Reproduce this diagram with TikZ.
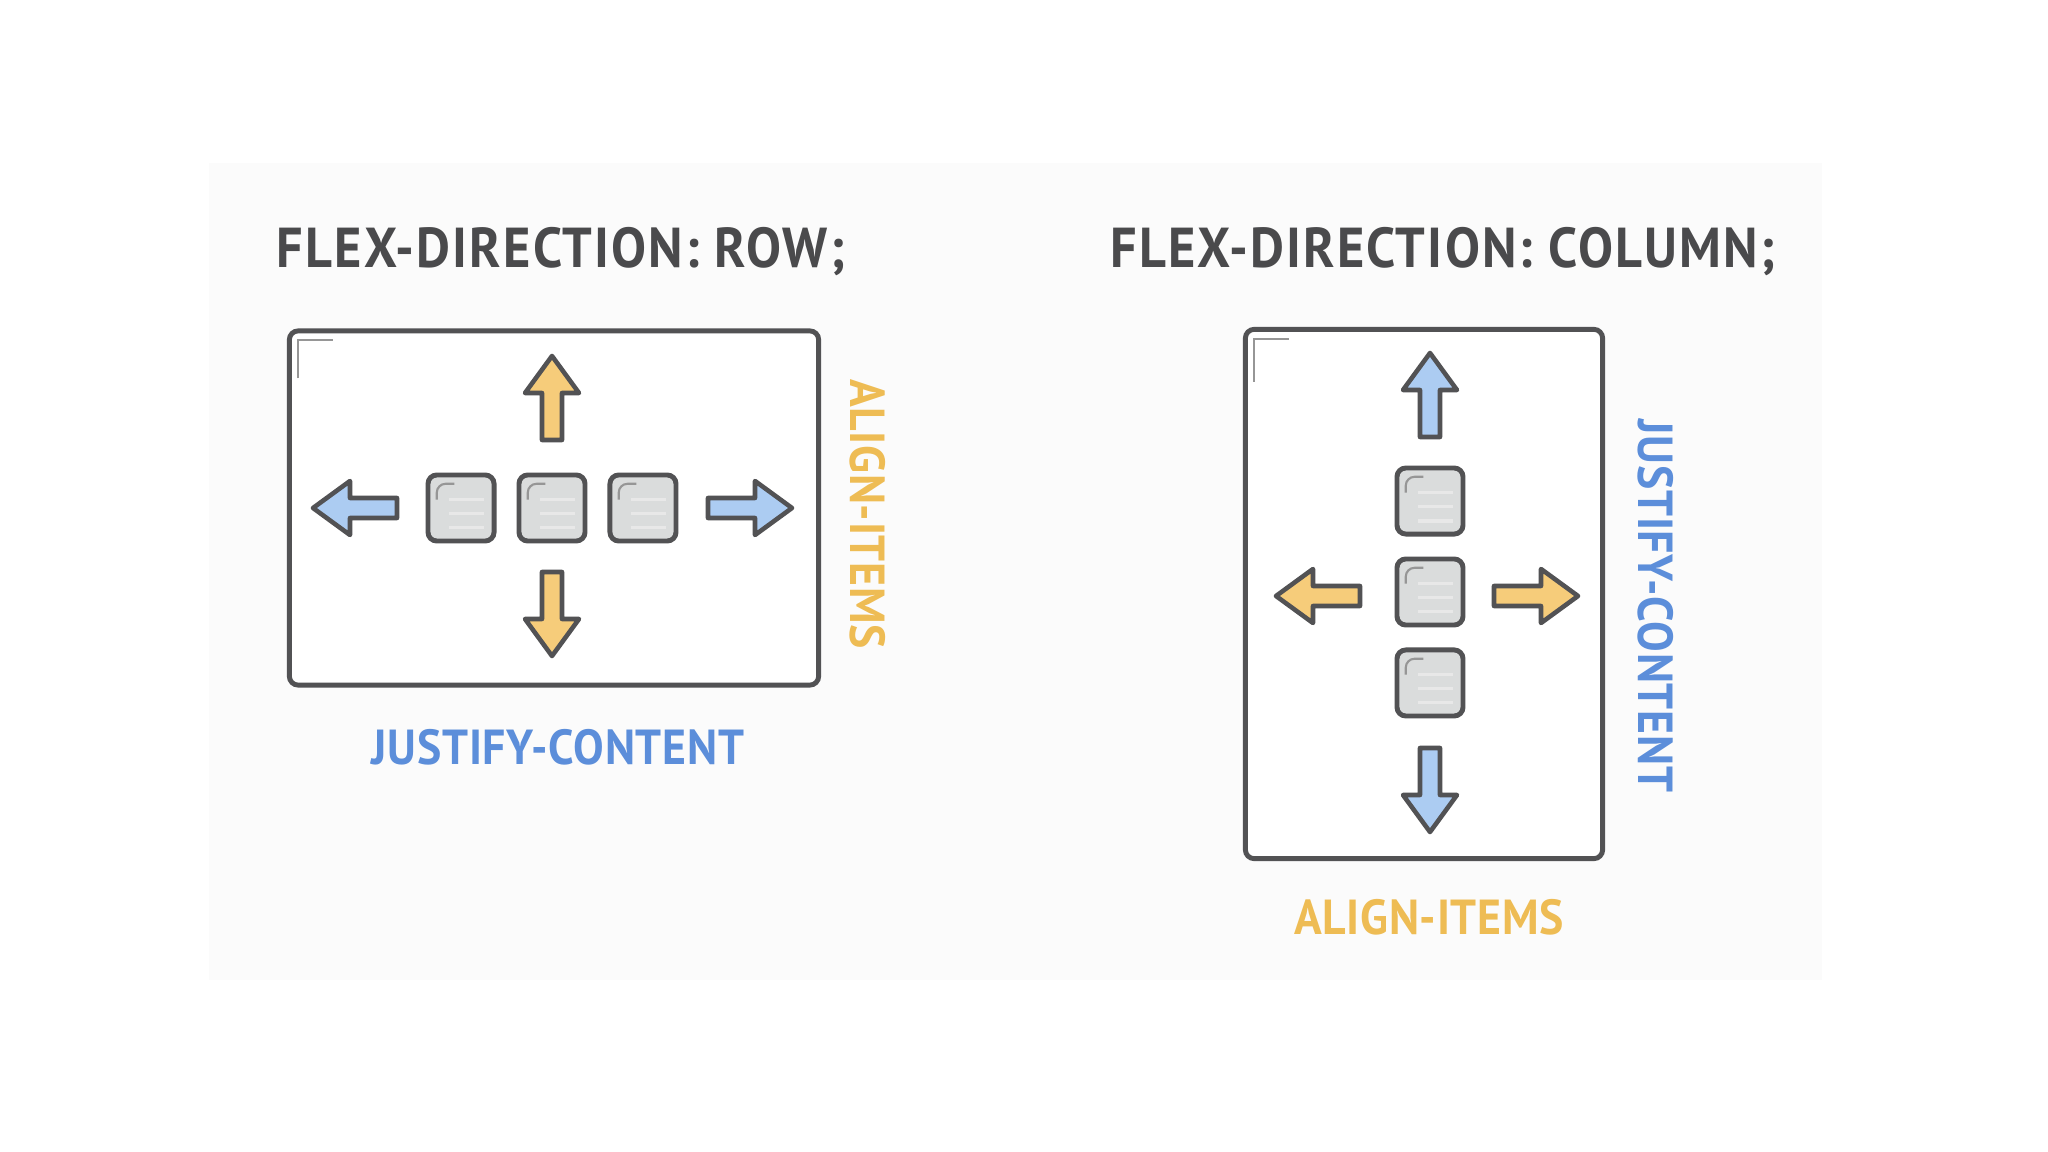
\documentclass[tikz,border=0pt]{standalone}
\usepackage{fontspec}
\setmainfont{PT Sans}
\newfontfamily\flexfont[FakeStretch=0.93, LetterSpace=4]{PT Sans}
\newfontfamily\axisfont[FakeStretch=0.93, LetterSpace=1.5]{PT Sans}
\usetikzlibrary{positioning}
\definecolor{boxgray}{RGB}{82,82,84}
\definecolor{itemfill}{RGB}{218,220,220}
\definecolor{markgray}{RGB}{150,150,150}
\definecolor{mainblue}{RGB}{92,142,218}
\definecolor{arrowblue}{RGB}{172,204,242}
\definecolor{mainorange}{RGB}{238,188,84}
\definecolor{arroworange}{RGB}{246,204,122}
\definecolor{titlegray}{RGB}{74,74,76}
\definecolor{panelgray}{RGB}{251,251,251}

\tikzset{
  container/.style={draw=boxgray, line width=1.4pt, rounded corners=2.5pt, fill=white, inner sep=0pt},
  item/.style={draw=boxgray, line width=1.4pt, rounded corners=2.5pt, fill=itemfill,
    minimum width=0.66cm, minimum height=0.66cm, inner sep=0pt,
    path picture={
      \draw[markgray, line width=0.6pt] ([shift={(2.5pt,-7pt)}]path picture bounding box.north west) |- ++(5pt,4.5pt);
      \foreach \k in {7,11,15}
        \draw[gray!18, line width=1pt] ([shift={(6pt,-\k pt)}]path picture bounding box.north west) -- ++(10pt,0);
    }},
  title/.style={font=\flexfont\bfseries\fontsize{16}{18}\selectfont, text=titlegray},
  axislabel/.style={font=\axisfont\bfseries\fontsize{14}{16}\selectfont},
  pics/blockarrow/.style={code={
    \draw[draw=boxgray, fill=#1, line width=1.3pt, line join=round]
      (-42,-10) -- (5,-10) -- (5,-27) -- (42,0) -- (5,27) -- (5,10) -- (-42,10) -- cycle;
  }},
}

\begin{document}
\begin{tikzpicture}[x=0.01cm, y=-0.01cm]
  \useasboundingbox (0,0) rectangle (2048,1152);
  \fill[panelgray] (209,163) rectangle (1822,980);

  % flex-direction: row
  \node[title] (rowtitle) at (561,252) {FLEX-DIRECTION: ROW;};
  \node[container, minimum width=5.29cm, minimum height=3.54cm] (rowbox) at (554,508) {};
  \draw[markgray, line width=0.6pt] ([shift={(11,50)}]rowbox.north west) |- ++(35,-38);
  \node[item] (row2) at (552,508) {};
  \node[item, left=0.2cm of row2] (row1) {};
  \node[item, right=0.2cm of row2] (row3) {};
  \pic[rotate=180] at (355,508) {blockarrow=arrowblue};
  \pic at (750,508) {blockarrow=arrowblue};
  \pic[rotate=90] at (552,398) {blockarrow=arroworange};
  \pic[rotate=-90] at (552,614) {blockarrow=arroworange};
  \node[axislabel, text=mainblue] (rowjustify) at (558,747) {JUSTIFY-CONTENT};
  \node[axislabel, text=mainorange, rotate=-90] (rowalign) at (868,514) {ALIGN-ITEMS};

  % flex-direction: column
  \node[title] (coltitle) at (1443,252) {FLEX-DIRECTION: COLUMN;};
  \node[container, minimum width=3.57cm, minimum height=5.29cm] (colbox) at (1424,594) {};
  \draw[markgray, line width=0.6pt] ([shift={(11,55)}]colbox.north west) |- ++(35,-43);
  \node[item] (col2) at (1430,592) {};
  \node[item, above=0.2cm of col2] (col1) {};
  \node[item, below=0.2cm of col2] (col3) {};
  \pic[rotate=90] at (1430,395) {blockarrow=arrowblue};
  \pic[rotate=-90] at (1430,790) {blockarrow=arrowblue};
  \pic[rotate=180] at (1318,596) {blockarrow=arroworange};
  \pic at (1536,596) {blockarrow=arroworange};
  \node[axislabel, text=mainblue, rotate=-90] (coljustify) at (1656,606) {JUSTIFY-CONTENT};
  \node[axislabel, text=mainorange] (colalign) at (1429,917) {ALIGN-ITEMS};
\end{tikzpicture}
\end{document}
